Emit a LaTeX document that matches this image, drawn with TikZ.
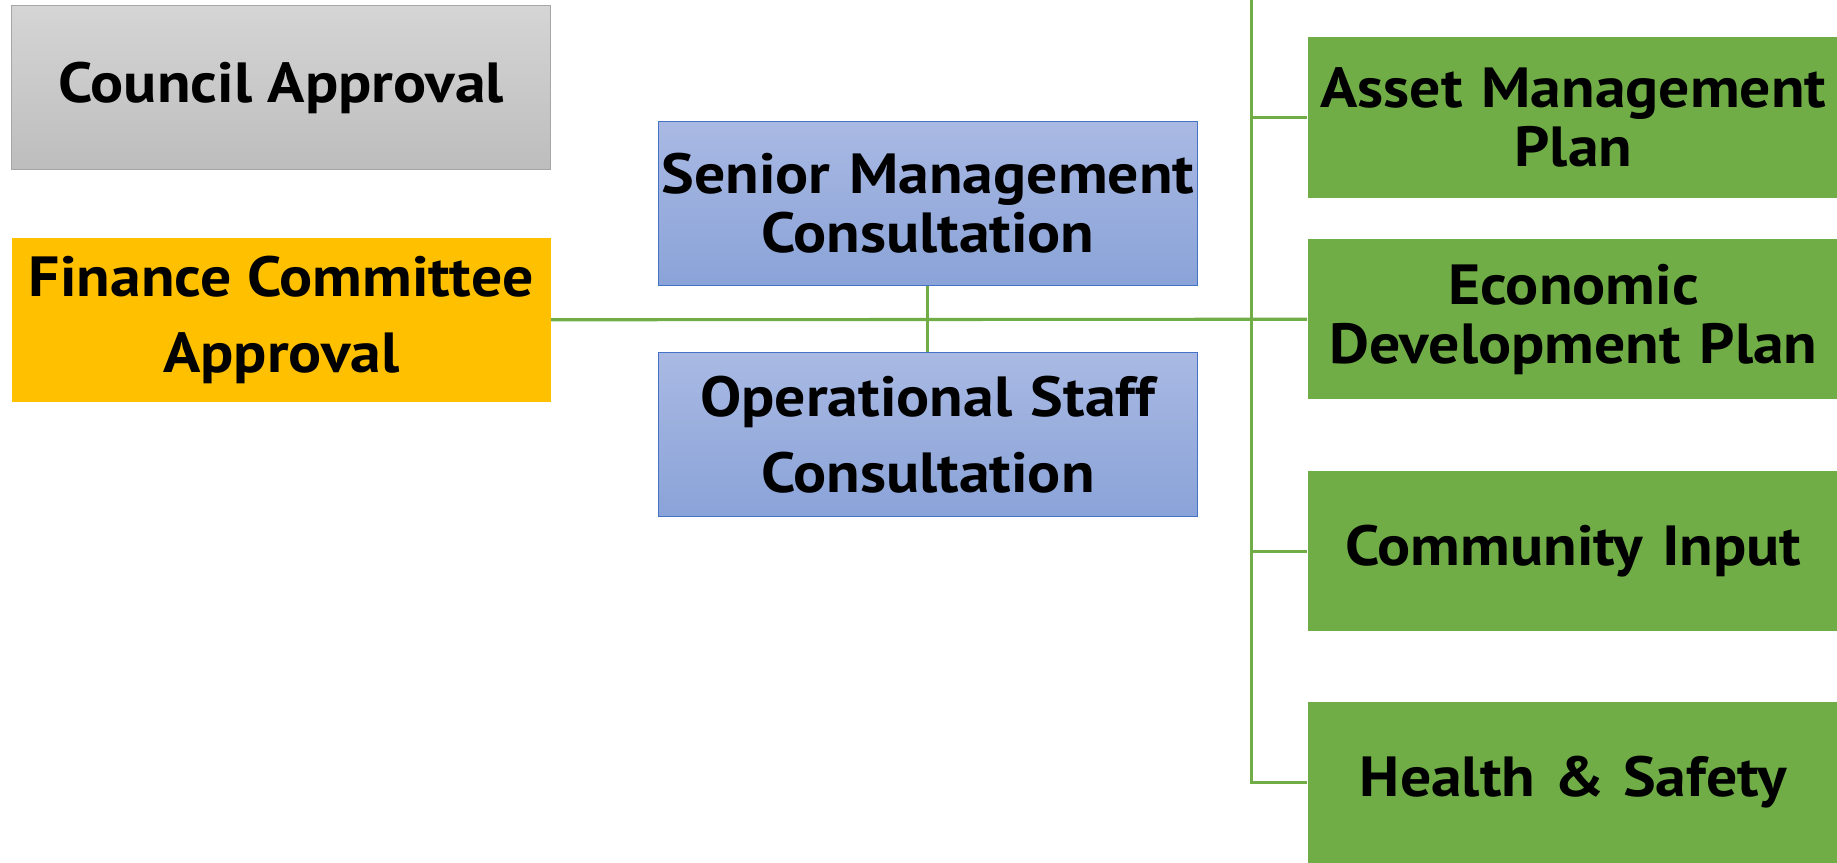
\documentclass[tikz,border=0pt]{standalone}
\usepackage{fontspec}
\setmainfont{PT Sans}[FakeStretch=1.09]
\usetikzlibrary{positioning}
\definecolor{plangreen}{HTML}{70AD47}
\definecolor{fingold}{HTML}{FFC000}
\definecolor{bluetop}{HTML}{A9B9E3}
\definecolor{bluebot}{HTML}{8AA3D8}
\definecolor{blueline}{HTML}{4472C4}
\definecolor{greytop}{HTML}{D5D5D5}
\definecolor{greybot}{HTML}{BDBDBD}
\definecolor{greyline}{HTML}{A6A6A6}

\begin{document}
\begin{tikzpicture}[x=0.02cm,y=-0.02cm,on grid,
    txt/.style={align=center,inner sep=0pt,font=\fontsize{27.5}{28.5}\selectfont\bfseries},
    approval/.style={txt,minimum width=9.2cm,minimum height=2.8cm},
    consult/.style={txt,text width=9.2cm,minimum height=2.8cm,draw=blueline,line width=0.6pt,
      top color=bluetop,bottom color=bluebot},
    plan/.style={txt,text width=9.08cm,minimum height=2.74cm,fill=plangreen},
    wire/.style={plangreen,line width=1.5pt}]
    \useasboundingbox (0,0) rectangle (1568,736);
    \node[approval,draw=greyline,line width=0.6pt,top color=greytop,bottom color=greybot]
        (council) at (240,75) {Council Approval};
    \node[approval,fill=fingold] (finance) [below=3.96cm of council] {Finance Committee\\[8.5pt] Approval};
    \node[consult] (senior) at (792,173.5) {Senior Management\\ Consultation};
    \node[consult] (oper) [below=3.95cm of senior] {Operational Staff\\[8.5pt] Consultation};
    \node[plan] (asset) at (1343,100.5) {Asset Management\\ Plan};
    \node[plan] (econ) [below=3.44cm of asset] {Economic\\ Development Plan};
    \node[plan] (comm) [below=3.96cm of econ] {Community Input};
    \node[plan] (hs) [below=3.95cm of comm] {Health \& Safety};
    \coordinate (trunk) at (1068,0);
    % connectors
    \draw[wire] (finance.east) -- (econ.west);
    \draw[wire] (senior.south) -- (oper.north);
    \draw[wire] (trunk) |- (hs.west);
    \draw[wire] (trunk |- asset.west) -- (asset.west);
    \draw[wire] (trunk |- comm.west) -- (comm.west);
\end{tikzpicture}
\end{document}
